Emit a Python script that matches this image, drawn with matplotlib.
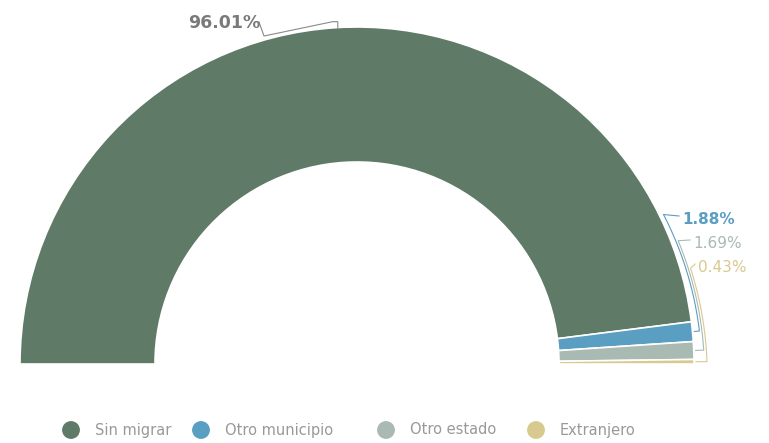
import numpy as np
import matplotlib
matplotlib.use('Agg')
import matplotlib.pyplot as plt

plt.rcParams['font.family'] = ['DejaVu Sans']

labels = ['Sin migrar', 'Otro municipio', 'Otro estado', 'Extranjero']
values = [96.01, 1.88, 1.69, 0.43]
colors = ['#5f7a67', '#5a9ec2', '#a9bab3', '#d8c98f']
text_colors = ['#7a7a7a', '#5a9ec2', '#a9bab3', '#d8c98f']

W, H = 769, 443
CX, CY = 357, 79          # centre of the half ring (y measured upwards)
R_OUT, R_W = 337, 135

fig = plt.figure(figsize=(W / 100, H / 100), dpi=100)
ax = fig.add_axes([0, 0, 1, 1])

total = sum(values)
wedges, _ = ax.pie(values + [total], startangle=180, counterclock=False,
                   center=(CX, CY), radius=R_OUT,
                   colors=colors + ['none'],
                   wedgeprops=dict(width=R_W, edgecolor='white', linewidth=1.2))
wedges[-1].set_visible(False)

ax.set_xlim(0, W)
ax.set_ylim(0, H)
ax.set_aspect('equal')
ax.axis('off')

# mid angle of every slice, degrees, counted from the right-hand side
cum = np.cumsum([0] + values)
mids = [180 - (cum[i] + cum[i + 1]) / 2 / total * 180 for i in range(len(values))]

def on_ring(ang, r):
    a = np.radians(ang)
    return CX + r * np.cos(a), CY + r * np.sin(a)

# big slice label with bracket leader
ax_, ay_ = on_ring(mids[0], R_OUT + 1)
tx, ty = 224, 420
ax.text(tx, ty, f'{values[0]:.2f}%', color=text_colors[0], fontsize=12.5,
        fontweight='bold', ha='center', va='center')
ax.plot([tx + 35, tx + 40, ax_ - 3, ax_ + 2, ax_ + 2],
        [ty + 1, ty - 13, ay_ + 5, ay_ + 5, ay_ - 2],
        color='#8a8a8a', lw=0.8, solid_joinstyle='miter')

# small slices: labels stacked on the right, leaders hugging the ring
label_pos = [(682, 224), (693, 200), (698, 176)]
for i in range(1, 4):
    px, py = on_ring(mids[i], R_OUT + 2)
    lx, ly = label_pos[i - 1]
    ax.text(lx, ly, f'{values[i]:.2f}%', color=text_colors[i], fontsize=11,
            fontweight='bold' if i == 1 else 'normal', ha='left', va='center')
    angs = np.linspace(mids[i], 31 - 5 * i, 30)
    rr = np.linspace(R_OUT + 4 + 3 * i, R_OUT + 1 + 3 * i, 30)
    xs = CX + rr * np.cos(np.radians(angs))
    ys = CY + rr * np.sin(np.radians(angs))
    xs = np.concatenate([[px], xs, [lx - 3]])
    ys = np.concatenate([[py], ys, [ly + 3]])
    ax.plot(xs, ys, color=colors[i], lw=0.8)

# legend row along the bottom
leg_x = [71, 201, 386, 536]
leg_y = 13
for x, lab, c in zip(leg_x, labels, colors):
    ax.scatter([x], [leg_y], s=165, color=c, edgecolors='none')
    ax.text(x + 24, leg_y, lab, color='#999999', fontsize=10.5,
            ha='left', va='center')

fig.savefig('out.png', dpi=100, facecolor='white')
